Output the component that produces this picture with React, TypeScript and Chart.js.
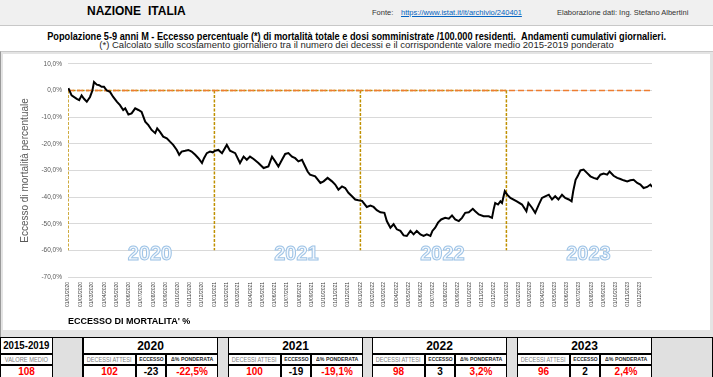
import React, { useEffect, useRef } from 'react';
import { Chart, registerables } from 'chart.js';

Chart.register(...registerables);

// ---------- DATA ----------
// days elapsed since 01/01/2020 for each sampled point of the cumulative curve
const sampleDays = [
  1, 9, 22, 28, 34, 40, 47, 55, 61, 65, 72, 78, 84, 90, 97, 105, 113, 122, 130, 138,
  143, 151, 159, 168, 176, 184, 193, 201, 209, 218, 223, 230, 238, 247, 255, 263, 272, 278, 284, 293,
  301, 309, 318, 326, 335, 340, 347, 355, 362, 368, 376, 385, 397, 405, 418, 430, 439, 447, 455, 464,
  476, 489, 501, 510, 518, 526, 535, 543, 551, 560, 568, 576, 585, 593, 599, 605, 618, 631, 639, 649,
  660, 668, 676, 685, 693, 701, 710, 718, 726, 735, 747, 756, 764, 772, 781, 791, 797, 806, 814, 822,
  831, 839, 847, 856, 864, 872, 881, 889, 897, 906, 911, 918, 925, 933, 943, 952, 960, 968, 977, 985,
  993, 1002, 1012, 1018, 1027, 1039, 1052, 1060, 1064, 1068, 1075, 1081, 1085, 1092, 1098, 1106, 1122, 1135, 1146, 1151,
  1160, 1168, 1177, 1185, 1193, 1202, 1210, 1218, 1226, 1235, 1243, 1252, 1259, 1263, 1269, 1274, 1281, 1289, 1298, 1306,
  1314, 1323, 1331, 1339, 1348, 1354, 1364, 1373, 1381, 1389, 1398, 1406, 1414, 1423, 1431, 1439, 1448, 1456, 1460,
];
// cumulative excess mortality (%)
const excessPct = [
  0.9, -1.8, -3.1, -3.6, -1.8, -3.1, -4.2, -2.4, 0.0, 3.2, 2.2, 2.0, 1.4, 1.4, 0.0, -0.5, -2.4, -4.2, -5.5, -7.3,
  -6.7, -9.0, -8.6, -6.7, -7.3, -8.0, -11.7, -13.0, -14.8, -16.0, -14.2, -15.5, -17.3, -17.9, -19.2, -20.4, -22.3, -24.1, -22.9, -22.6,
  -22.3, -22.9, -24.1, -25.4, -27.2, -25.4, -23.5, -22.9, -23.2, -22.6, -22.3, -23.5, -20.4, -22.6, -23.5, -27.2, -24.8, -26.0, -24.8, -25.7,
  -27.2, -29.1, -28.5, -24.8, -26.6, -28.5, -26.0, -23.8, -23.5, -24.8, -25.4, -26.6, -26.0, -28.5, -30.4, -31.6, -32.2, -34.7, -34.1, -32.8,
  -34.1, -35.3, -37.2, -36.0, -36.6, -38.4, -39.7, -40.9, -41.2, -41.4, -43.7, -43.2, -43.7, -44.9, -45.7, -45.9, -49.0, -51.5, -50.2, -52.1,
  -52.7, -54.4, -54.6, -52.7, -54.0, -52.7, -54.0, -54.6, -54.0, -54.6, -52.7, -51.5, -49.6, -48.4, -47.8, -48.1, -46.9, -48.4, -49.0, -47.8,
  -45.9, -45.7, -44.4, -45.3, -46.5, -47.2, -47.2, -47.8, -44.7, -42.2, -42.8, -41.6, -42.2, -37.8, -39.1, -40.3, -41.6, -42.8, -45.3, -42.2,
  -44.0, -45.9, -42.8, -40.3, -39.7, -39.1, -40.9, -39.7, -40.9, -39.1, -40.3, -40.9, -41.6, -37.8, -33.5, -32.2, -30.0, -29.7, -31.0, -32.2,
  -32.8, -33.2, -31.6, -31.2, -31.6, -30.4, -32.0, -32.8, -33.2, -33.7, -34.1, -33.7, -33.5, -34.7, -35.3, -36.6, -36.2, -35.3, -36.2,
];
const yearLabels = ['2020', '2021', '2022', '2023'];
const markerFloor = -60; // bottom of the yearly dashed markers (%)
const yMin = -70;
const yMax = 10;
const yStep = 10;

const baselinePeriod = '2015-2019';
const baselineValue = 108;
const expectedDeaths = [102, 100, 98, 96];
const excessDeaths = [-23, -19, 3, 2];
const weightedPct = ['-22,5%', '-19,1%', '3,2%', '2,4%'];

// ---------- HELPERS ----------
const DAY = 86400000;
const START = Date.UTC(2020, 0, 1);
const dayOf = (y: number, m: number) => Math.round((Date.UTC(y, m, 1) - START) / DAY);
const years = yearLabels.map((y) => parseInt(y, 10));
const yearStartDays = years.map((y) => dayOf(y, 0));
const lastDay = dayOf(years[years.length - 1] + 1, 0) - 1;
const monthTicks: number[] = [];
years.forEach((y) => {
  for (let m = 0; m < 12; m++) monthTicks.push(dayOf(y, m));
});
const fmtDay = (d: number) => {
  const dt = new Date(START + d * DAY);
  const dd = String(dt.getUTCDate()).padStart(2, '0');
  const mm = String(dt.getUTCMonth() + 1).padStart(2, '0');
  return `${dd}/${mm}/${dt.getUTCFullYear()}`;
};

const FONT = "'Liberation Sans', Arial, sans-serif";

const yearTextPlugin = {
  id: 'yearText',
  beforeDatasetsDraw(chart: any) {
    const { ctx, scales } = chart;
    const x = scales.x;
    const y = scales.y;
    ctx.save();
    ctx.font = `bold 20px ${FONT}`;
    ctx.textAlign = 'center';
    ctx.textBaseline = 'middle';
    yearStartDays.forEach((d, i) => {
      const px = x.getPixelForValue(d + 205);
      const py = y.getPixelForValue(-61.5);
      ctx.fillStyle = '#f4f8fd';
      ctx.fillText(yearLabels[i], px, py);
      ctx.strokeStyle = '#9dc3e6';
      ctx.lineWidth = 1;
      ctx.strokeText(yearLabels[i], px, py);
    });
    ctx.restore();
  },
};

function ChartCanvas() {
  const ref = useRef<HTMLCanvasElement | null>(null);
  useEffect(() => {
    if (!ref.current) return;
    const gold = '#bf9000';
    const markerSets = yearStartDays.map((d) => ({
      label: 'anno',
      data: [
        { x: d, y: 0 },
        { x: d, y: markerFloor },
      ],
      borderColor: gold,
      borderWidth: 1.5,
      borderDash: [3, 1.5],
      pointRadius: 0,
      order: 2,
    }));
    const chart = new Chart(ref.current, {
      type: 'line',
      data: {
        datasets: [
          {
            label: 'Eccesso',
            data: sampleDays.map((d, i) => ({ x: d, y: excessPct[i] })),
            borderColor: '#000000',
            borderWidth: 2,
            pointRadius: 0,
            tension: 0,
            order: 0,
          },
          {
            label: 'zero',
            data: [
              { x: 0, y: 0 },
              { x: lastDay, y: 0 },
            ],
            borderColor: '#ed7d31',
            borderWidth: 1.5,
            borderDash: [6, 3],
            pointRadius: 0,
            order: 1,
          },
          {
            label: 'base',
            data: [
              { x: 0, y: 0 },
              { x: yearStartDays[yearStartDays.length - 1], y: 0 },
            ],
            borderColor: gold,
            borderWidth: 1.5,
            borderDash: [3, 1.5],
            pointRadius: 0,
            order: 3,
          },
          ...markerSets,
        ],
      },
      options: {
        animation: false,
        responsive: false,
        maintainAspectRatio: false,
        layout: { padding: { left: 0, right: 58, top: 9, bottom: 0 } },
        plugins: { legend: { display: false }, tooltip: { enabled: false } },
        scales: {
          x: {
            type: 'linear',
            min: 0,
            max: lastDay,
            grid: { display: false, drawTicks: false },
            border: { display: false },
            afterBuildTicks: (s: any) => {
              s.ticks = monthTicks.map((v) => ({ value: v }));
            },
            afterFit: (s: any) => {
              s.height = 53;
            },
            ticks: {
              autoSkip: false,
              maxRotation: 90,
              minRotation: 90,
              padding: 5,
              color: '#404040',
              font: { family: FONT, size: 5 },
              callback: (v: any) => fmtDay(Number(v)),
            },
            title: {
              display: true,
              text: "ECCESSO DI MORTALITA' %",
              align: 'start',
              color: '#000000',
              font: { family: FONT, size: 9, weight: 'bold' },
              padding: { top: 0, bottom: 3 },
            },
          },
          y: {
            min: yMin,
            max: yMax,
            afterFit: (s: any) => {
              s.width = 65;
            },
            grid: { color: '#d9d9d9', lineWidth: 1, drawTicks: false },
            border: { display: false },
            ticks: {
              stepSize: yStep,
              padding: 6,
              color: '#595959',
              font: { family: FONT, size: 6.5 },
              callback: (v: any) => Number(v).toFixed(1).replace('.', ',') + '%',
            },
            title: {
              display: true,
              text: 'Eccesso di mortalità percentuale',
              color: '#595959',
              font: { family: FONT, size: 10 },
              padding: { top: 16, bottom: 0 },
            },
          },
        },
      },
      plugins: [yearTextPlugin],
    } as any);
    return () => chart.destroy();
  }, []);
  return <canvas ref={ref} width={707} height={276} style={{ display: 'block', width: 707, height: 276 }} />;
}

type CellProps = {
  x: number;
  y: number;
  w: number;
  h: number;
  text?: string | number;
  color?: string;
  size?: number;
  bold?: boolean;
  bg?: string;
  sx?: number;
};
function Cell({ x, y, w, h, text, color = '#000', size = 10, bold = false, bg = '#fff', sx = 1 }: CellProps) {
  return (
    <div
      style={{
        position: 'absolute',
        left: x,
        top: y,
        width: w,
        height: h,
        boxSizing: 'border-box',
        border: '1px solid #000',
        background: bg,
        color,
        fontSize: size,
        fontWeight: bold ? 700 : 400,
        display: 'flex',
        alignItems: 'center',
        justifyContent: 'center',
        whiteSpace: 'nowrap',
        overflow: 'hidden',
        lineHeight: 1,
      }}
    >
      {text !== undefined && (
        <span style={{ display: 'inline-block', transform: `scaleX(${sx})`, transformOrigin: 'center' }}>{text}</span>
      )}
    </div>
  );
}

export default function App() {
  const T = 337;
  const r1 = 17;
  const r2 = 11;
  const r3 = 12;
  const blockX = [83, 228, 372, 517];
  const subW = [53, 30, 52];
  const gray = '#e0e0e0';
  const grayCells = [
    [52, 31],
    [217, 12],
    [362, 11],
    [506, 12],
    [651, 62],
  ];
  const smallText: React.CSSProperties = { position: 'absolute', top: 8, fontSize: 7.5, color: '#333', whiteSpace: 'nowrap' };
  return (
    <div
      style={{
        position: 'relative',
        width: 713,
        height: 377,
        background: '#fff',
        fontFamily: FONT,
        overflow: 'hidden',
      }}
    >
      <style>{'body{margin:0;background:#fff}'}</style>
      {/* header band */}
      <div
        style={{
          position: 'absolute',
          left: 0,
          top: 0,
          width: 713,
          height: 26,
          background: '#f0f0f0',
          borderBottom: '1px solid #c8c8c8',
          boxSizing: 'border-box',
        }}
      />
      <div style={{ position: 'absolute', left: 87, top: 4, fontSize: 12, fontWeight: 700 }}>NAZIONE</div>
      <div style={{ position: 'absolute', left: 148, top: 4, fontSize: 12, fontWeight: 700 }}>ITALIA</div>
      <div style={{ ...smallText, left: 372 }}>Fonte:</div>
      <div style={{ ...smallText, left: 401, color: '#0563c1', textDecoration: 'underline' }}>
        https://www.istat.it/it/archivio/240401
      </div>
      <div style={{ ...smallText, left: 557 }}>Elaborazione dati: Ing. Stefano Albertini</div>
      {/* titles */}
      <div
        style={{
          position: 'absolute',
          left: 0,
          top: 26,
          width: 713,
          textAlign: 'center',
          whiteSpace: 'nowrap',
          lineHeight: 1.15,
        }}
      >
        <span
          style={{
            display: 'inline-block',
            fontSize: 10.5,
            fontWeight: 700,
            transform: 'scaleX(0.875)',
            transformOrigin: 'center',
          }}
        >
          Popolazione 5-9 anni M - Eccesso percentuale (*) di mortalità totale e dosi somministrate /100.000 residenti.{'\u00a0\u00a0'}Andamenti cumulativi giornalieri.
        </span>
      </div>
      <div
        style={{
          position: 'absolute',
          left: 0,
          top: 40,
          width: 713,
          textAlign: 'center',
          fontSize: 9.5,
          lineHeight: 1.15,
          color: '#262626',
          whiteSpace: 'nowrap',
        }}
      >
        (*) Calcolato sullo scostamento giornaliero tra il numero dei decessi e il corrispondente valore medio 2015-2019 ponderato
      </div>
      {/* chart frame */}
      <div
        style={{
          position: 'absolute',
          left: 0,
          top: 51,
          width: 713,
          height: 286,
          background: '#e4e4e4',
          borderLeft: '1px solid #9a9a9a',
          borderTop: '1px solid #c8c8c8',
          boxSizing: 'border-box',
        }}
      />
      <div style={{ position: 'absolute', left: 3, top: 54, width: 707, height: 276, background: '#fff' }}>
        <ChartCanvas />
      </div>
      {/* table */}
      <Cell x={0} y={T} w={53} h={r1} text={baselinePeriod} bold size={11} sx={0.88} />
      <Cell x={0} y={T + r1} w={53} h={r2} text="VALORE MEDIO" size={7} color="#7f7f7f" sx={0.82} />
      <Cell x={0} y={T + r1 + r2} w={53} h={r3 + 1} text={baselineValue} bold size={10} color="#ff0000" />
      {grayCells.map(([x, w], i) => (
        <Cell key={'g' + i} x={x} y={T} w={w} h={r1 + r2 + r3 + 1} bg={gray} />
      ))}
      {yearLabels.map((yl, i) => {
        const bx = blockX[i];
        return (
          <React.Fragment key={yl}>
            <Cell x={bx} y={T} w={135} h={r1} text={yl} bold size={12} />
            <Cell x={bx} y={T + r1} w={subW[0]} h={r2} text="DECESSI ATTESI" size={7} color="#7f7f7f" sx={0.8} />
            <Cell x={bx + subW[0]} y={T + r1} w={subW[1]} h={r2} text="ECCESSO" size={5.5} bold color="#262626" sx={0.9} />
            <Cell x={bx + subW[0] + subW[1]} y={T + r1} w={subW[2]} h={r2} text="Δ% PONDERATA" size={5.5} bold color="#262626" sx={0.95} />
            <Cell x={bx} y={T + r1 + r2} w={subW[0]} h={r3 + 1} text={expectedDeaths[i]} bold size={10} color="#ff0000" />
            <Cell x={bx + subW[0]} y={T + r1 + r2} w={subW[1]} h={r3 + 1} text={excessDeaths[i]} bold size={10} />
            <Cell x={bx + subW[0] + subW[1]} y={T + r1 + r2} w={subW[2]} h={r3 + 1} text={weightedPct[i]} bold size={10} color="#ff0000" />
          </React.Fragment>
        );
      })}
    </div>
  );
}
